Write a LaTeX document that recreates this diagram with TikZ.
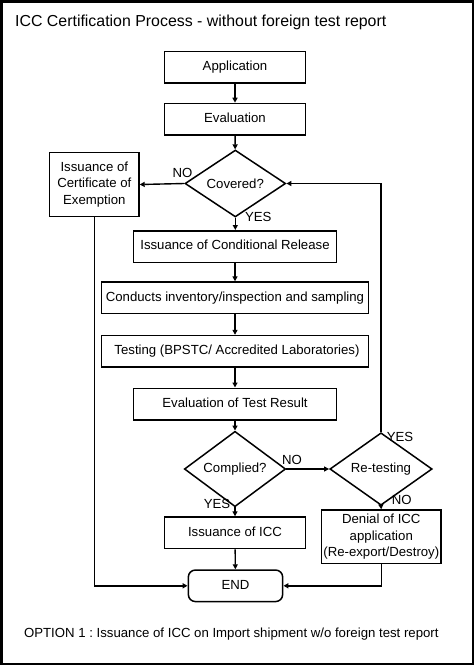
\documentclass[tikz,border=0pt]{standalone}
\usepackage{fontspec}
\setmainfont{Liberation Sans}
\usetikzlibrary{shapes.geometric,arrows.meta}
\frenchspacing
\begin{document}
\begin{tikzpicture}[x=1pt,y=-1pt,
  txt/.style={font=\fontsize{13.2}{16.3}\selectfont},
  box/.style={txt,draw,line width=1.5pt,minimum height=31.5pt,inner sep=0pt,align=center},
  sbox/.style={box,text height=9.5pt,text depth=2.8pt},
  dia/.style={txt,draw,diamond,line width=1.5pt,inner sep=0pt},
  lbl/.style={txt,inner sep=0pt},
  arr/.style={line width=1.4pt,-{Triangle[length=5pt,width=5pt]}}]
\useasboundingbox (0,0) rectangle (474,665);
\draw[line width=2.5pt] (1.25,1.25) rectangle (472.75,663.75);

\node[anchor=base west,inner sep=0pt,font=\fontsize{15.9}{19}\selectfont] (title) at (15,26.7) {ICC Certification Process - without foreign test report};

\node[sbox,minimum width=141.4pt] (app) at (235,67.3) {Application};
\node[sbox,minimum width=141.4pt] (eval) at (235,119.2) {Evaluation};
\node[dia,minimum width=100.7pt,minimum height=54pt] (cov) at (235.3,183.5) {Covered?};
\node[box,minimum width=89.3pt,minimum height=64.3pt] (exempt) at (94.3,184.5) {Issuance of\\Certificate of\\Exemption};
\node[sbox,minimum width=203.3pt] (cond) at (235,246.5) {Issuance of Conditional Release};
\node[sbox,minimum width=266.7pt] (inv) at (235,297.8) {Conducts inventory/inspection and sampling};
\node[sbox,minimum width=266.7pt] (test) at (235,351.3) {\hspace{4pt}Testing (BPSTC/ Accredited Laboratories)};
\node[sbox,minimum width=203.3pt] (evres) at (235,404) {Evaluation of Test Result};
\node[dia,minimum width=101.3pt,minimum height=53.3pt] (comp) at (235,469) {Complied?};
\node[dia,minimum width=102.3pt,minimum height=53.3pt] (ret) at (381,469) {Re-testing};
\node[sbox,minimum width=141.4pt] (icc) at (235,532.8) {Issuance of ICC};
\node[box,minimum width=119.3pt,minimum height=53.3pt] (deny) at (381.3,536.7) {Denial of ICC\\application\\(Re-export/Destroy)};
\node[sbox,rounded corners=7pt,minimum width=94.3pt] (end) at (235.5,585.8) {END};

\node[lbl] (no1) at (182.5,173) {NO};
\node[lbl] (yes1) at (258.3,216.7) {YES};
\node[lbl] (no2) at (292,460) {NO};
\node[lbl] (yes2) at (400,436.5) {YES};
\node[lbl] (no3) at (401.7,500) {NO};
\node[lbl] (yes3) at (217,504.3) {YES};

\node[txt,anchor=base,inner sep=0pt] (foot) at (231.3,637.3) {OPTION 1 : Issuance of ICC on Import shipment w/o foreign test report};

\draw[arr] (app) -- (eval);
\draw[arr] (eval) -- (cov);
\draw[arr] (cov.west) -- (exempt.east);
\draw[arr] (cov.south) -- (cov.south |- cond.north);
\draw[arr] (cond) -- (inv);
\draw[arr] (inv) -- (test);
\draw[arr] (test) -- (evres);
\draw[arr] (evres) -- (comp);
\draw[arr] (comp.east) -- (ret.west);
\draw[arr] (comp.south) -- (icc.north);
\draw[arr] (ret.south) -- (deny.north);
\draw[arr] (ret.north) |- (cov.east);
\draw[arr] (icc) -- (end);
\draw[arr] (exempt.south) |- (end.west);
\draw[arr] (deny.south) |- (end.east);
\end{tikzpicture}
\end{document}
